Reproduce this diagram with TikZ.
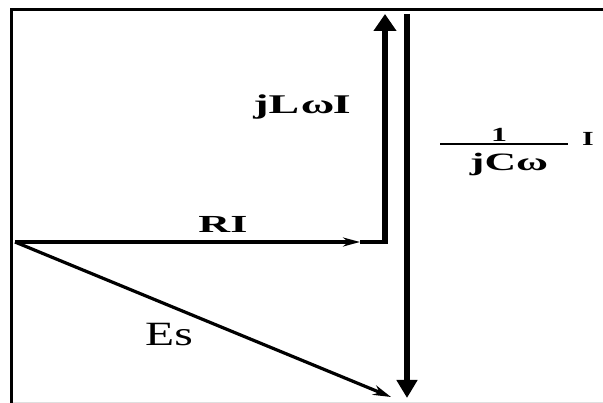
\documentclass[tikz,border=0pt]{standalone}
\usepackage{fontspec}
\setmainfont{Liberation Serif}
\usepackage{graphicx}
\usetikzlibrary{arrows.meta}
\begin{document}
\begin{tikzpicture}[x=1pt,y=-1pt,
  frame/.style={line width=3pt},
  vec/.style={line width=3.2pt},
  bigvec/.style={line width=6pt},
  lbl/.style={inner sep=0pt,anchor=base}]
\useasboundingbox (0,0) rectangle (603,403);
\fill[white] (0,0) rectangle (603,403);
% frame
\draw[frame] (603,10) -- (11.5,10) -- (11.5,403);
\draw[gray!25,line width=1pt] (13,402.5) -- (603,402.5);
% points
\coordinate (O) at (15,242);
\coordinate (RIend) at (360,242);
\coordinate (C) at (385,242);
\coordinate (T) at (385,14);
\coordinate (D1) at (407,14);
\coordinate (D2) at (407,398);
\coordinate (E) at (391,397);
% vectors
\draw[vec,-{Stealth[length=17pt,width=9pt]}] (O) -- (RIend);
\draw[vec,line cap=butt] (RIend) -- (C);
\draw[bigvec,-{Triangle[length=17pt,width=22pt]}] ([yshift=-1.6pt]C) -- (T);
\draw[bigvec,-{Triangle[length=18pt,width=20pt]}] (D1) -- (D2);
\draw[vec,-{Stealth[length=18pt,width=10pt]}] (O) -- (E);
% labels
\node[lbl] (jl) at (302,114) {\scalebox{1.7}[1]{\fontsize{27}{32}\selectfont\bfseries jL\kern1ptω\kern-1ptI}};
\node[lbl] (ri) at (223,233) {\scalebox{1.8}[1]{\fontsize{24.5}{29}\selectfont\bfseries RI}};
\node[lbl] (es) at (169,346) {\scalebox{1.4}[1]{\fontsize{34}{40}\selectfont Es}};
\node[lbl] (num) at (499,142) {\scalebox{1.6}[1]{\fontsize{20}{24}\selectfont\bfseries 1}};
\coordinate (bl) at (440,144);
\coordinate (br) at (568,144);
\draw[line width=2.4pt] (bl) -- (br);
\node[lbl] (den) at (509,171) {\scalebox{1.75}[1]{\fontsize{25}{29}\selectfont\bfseries jCω}};
\node[lbl] (ii) at (588,146) {\scalebox{1.5}[1]{\fontsize{20}{24}\selectfont\bfseries I}};
\end{tikzpicture}
\end{document}
